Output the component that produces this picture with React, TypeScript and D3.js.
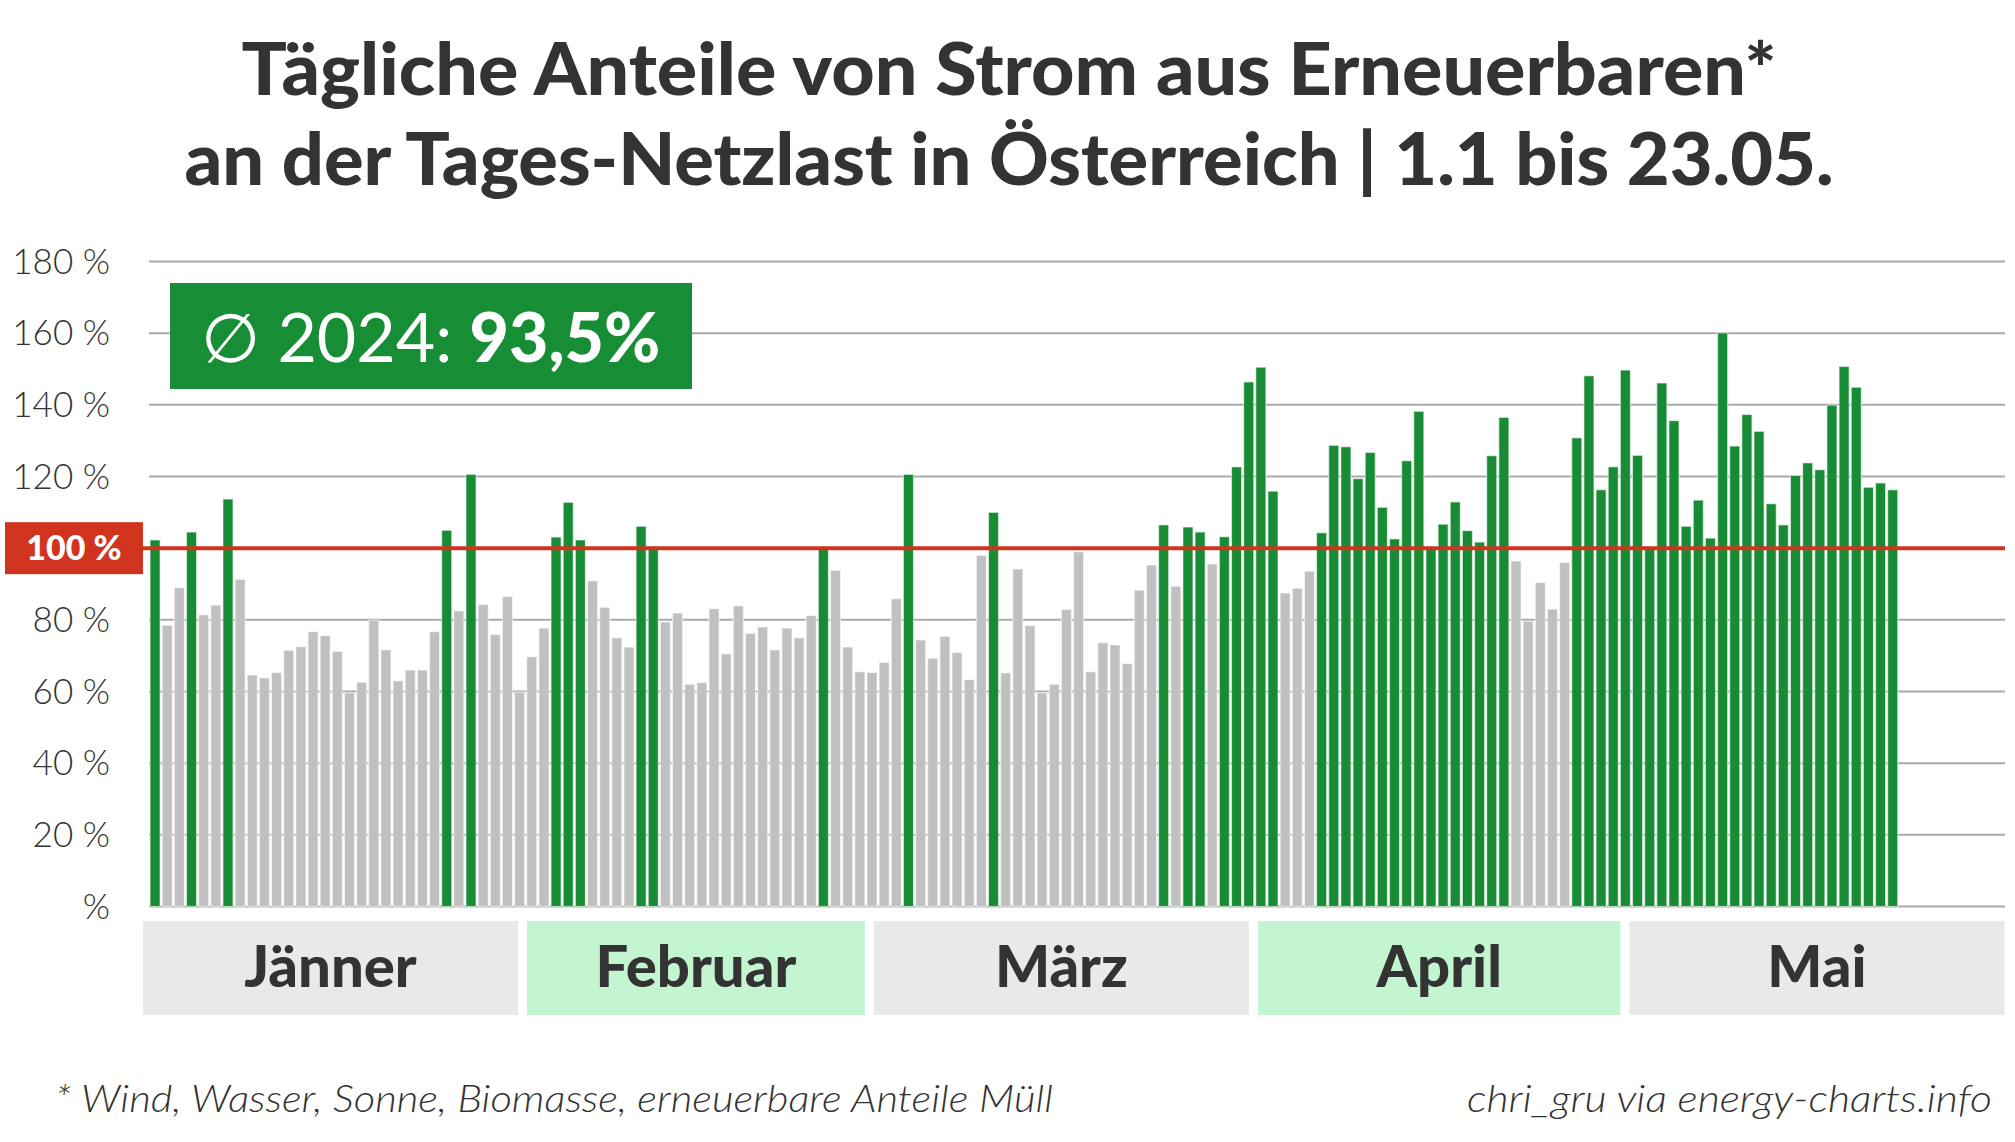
import * as React from "react";
import * as d3 from "d3";

const WIDTH = 2015;
const HEIGHT = 1142;

const titleLines = [
  "Tägliche Anteile von Strom aus Erneuerbaren*",
  "an der Tages-Netzlast in Österreich | 1.1 bis 23.05.",
];
const footnote = "* Wind, Wasser, Sonne, Biomasse, erneuerbare Anteile Müll";
const source = "chri_gru via energy-charts.info";

const months = ["Jänner", "Februar", "März", "April", "Mai"];
const monthDays = [31, 29, 31, 30, 31];
// widths of the month strip (the original strip treats Feb as 28 days)
const stripDays = [31, 28, 31, 30, 31];

// daily share of renewables in % of the grid load, 2024
const shareJan = [
  102.3, 78.5, 89, 104.5, 81.4, 84.1, 113.7, 91.3, 64.6, 63.8, 65.3, 71.5, 72.5,
  76.7, 75.6, 71.2, 59.6, 62.6, 79.9, 71.6, 63, 66, 66, 76.7, 105, 82.5, 120.6,
  84.3, 75.9, 86.5, 59.8,
];
const shareFeb = [
  69.7, 77.7, 103.1, 112.8, 102.3, 90.9, 83.5, 75, 72.4, 106.1, 100.5, 79.4,
  81.9, 62, 62.5, 83.1, 70.5, 83.9, 76.2, 78, 71.6, 77.7, 75, 81.2, 100.3, 93.8,
  72.4, 65.5, 65.3,
];
const shareMar = [
  68.1, 85.9, 120.6, 74.4, 69.3, 75.4, 70.9, 63.3, 98, 110, 65.2, 94.2, 78.4,
  59.7, 62, 82.9, 99, 65.5, 73.6, 73, 67.8, 88.3, 95.3, 106.5, 89.4, 105.9,
  104.5, 95.6, 103.2, 122.7, 146.4,
];
const shareApr = [
  150.5, 115.9, 87.5, 88.8, 93.6, 104.3, 128.7, 128.3, 119.4, 126.7, 111.4,
  102.6, 124.4, 138.2, 100.2, 106.7, 112.9, 104.9, 101.7, 125.8, 136.5, 96.4,
  79.6, 90.4, 83, 96, 130.8, 148.1, 116.3, 122.7,
];
const shareMay = [
  149.7, 125.9, 100.2, 146.1, 135.6, 106.1, 113.4, 102.8, 160.1, 128.5, 137.3,
  132.6, 112.4, 106.5, 120.3, 123.8, 121.9, 139.9, 150.7, 144.9, 117, 118.2,
  116.3,
];

const yTicks = [0, 20, 40, 60, 80, 100, 120, 140, 160, 180];
const yTickLabels = ["%", "20 %", "40 %", "60 %", "80 %", "100 %", "120 %", "140 %", "160 %", "180 %"];
const avgLabel = "∅ 2024: ";
const avgValue = "93,5%";

const GREEN = "#178c34";
const GREY = "#c0c0c0";
const RED = "#d0341f";
const TEXT = "#333333";
const FONT = "Lato, 'Open Sans', sans-serif";

export default function App() {
  const values = [...shareJan, ...shareFeb, ...shareMar, ...shareApr, ...shareMay];
  const totalDays = d3.sum(monthDays);

  const x = d3
    .scaleBand<number>()
    .domain(d3.range(totalDays))
    .range([149, 1996])
    .paddingInner(0.17)
    .paddingOuter(0.085);

  const y = d3.scaleLinear().domain([0, 180]).range([906.5, 261.5]);

  // month strip below the bars
  const mx = d3.scaleLinear().domain([0, d3.sum(stripDays)]).range([138.5, 2009]);
  const stripStart = stripDays.map((_, i) => d3.sum(stripDays.slice(0, i)));

  const gridX0 = 149;
  const gridX1 = 2005;

  return (
    <svg
      width={WIDTH}
      height={HEIGHT}
      style={{ position: "absolute", left: 0, top: 0, background: "#fff" }}
      fontFamily={FONT}
    >
      <rect width={WIDTH} height={HEIGHT} fill="#fff" />

      {/* title */}
      {titleLines.map((t, i) => (
        <text
          key={t}
          x={1009}
          y={95 + i * 90}
          textAnchor="middle"
          fontSize={72}
          fontWeight={900}
          fill={TEXT}
          textLength={i === 0 ? 1535 : 1649}
          lengthAdjust="spacingAndGlyphs"
        >
          {t}
        </text>
      ))}

      {/* grid */}
      {yTicks.map((t) => (
        <line
          key={t}
          x1={gridX0}
          x2={gridX1}
          y1={y(t)}
          y2={y(t)}
          stroke="#aaaaaa"
          strokeWidth={2}
        />
      ))}

      {/* y labels */}
      {yTicks.map((t, i) =>
        t === 100 ? null : (
          <text
            key={t}
            x={110}
            y={y(t)}
            dy="0.35em"
            textAnchor="end"
            fontSize={35}
            fontWeight={300}
            fill={TEXT}
          >
            {yTickLabels[i]}
          </text>
        )
      )}

      {/* bars */}
      {values.map((v, i) => (
        <rect
          key={i}
          x={x(i)}
          y={y(v)}
          width={x.bandwidth()}
          height={y(0) - y(v)}
          fill={v >= 100 ? GREEN : GREY}
          stroke="#ffffff"
          strokeOpacity={0.55}
          strokeWidth={1.2}
        />
      ))}

      {/* 100 % line */}
      <line x1={143} x2={gridX1} y1={y(100)} y2={y(100)} stroke={RED} strokeWidth={4} />
      <rect x={5} y={y(100) - 26} width={138} height={52} fill={RED} />
      <text
        x={74}
        y={y(100)}
        dy="0.36em"
        textAnchor="middle"
        fontSize={34}
        fontWeight={900}
        fill="#fff"
      >
        {yTickLabels[5]}
      </text>

      {/* average box */}
      <rect x={170} y={283} width={522} height={106} fill="#178e35" />
      <text x={201} y={362} fontSize={68} fill="#fff">
        <tspan fontWeight={400}>{avgLabel}</tspan>
        <tspan fontWeight={900}>{avgValue}</tspan>
      </text>

      {/* months */}
      {months.map((m, i) => {
        const x0 = mx(stripStart[i]) + 4.5;
        const x1 = mx(stripStart[i] + stripDays[i]) - 4.5;
        return (
          <g key={m}>
            <rect
              x={x0}
              y={921}
              width={x1 - x0}
              height={94}
              fill={i % 2 === 1 ? "#c3f5d1" : "#e9e9e9"}
            />
            <text
              x={(x0 + x1) / 2}
              y={987}
              textAnchor="middle"
              fontSize={58}
              fontWeight={900}
              fill={TEXT}
            >
              {m}
            </text>
          </g>
        );
      })}

      {/* footer */}
      <text
        x={55}
        y={1112}
        fontSize={38}
        fontStyle="italic"
        fontWeight={300}
        fill={TEXT}
        textLength={998}
        lengthAdjust="spacingAndGlyphs"
      >
        {footnote}
      </text>
      <text
        x={1992}
        y={1112}
        textAnchor="end"
        fontSize={38}
        fontStyle="italic"
        fontWeight={300}
        fill={TEXT}
        textLength={525}
        lengthAdjust="spacingAndGlyphs"
      >
        {source}
      </text>
    </svg>
  );
}
